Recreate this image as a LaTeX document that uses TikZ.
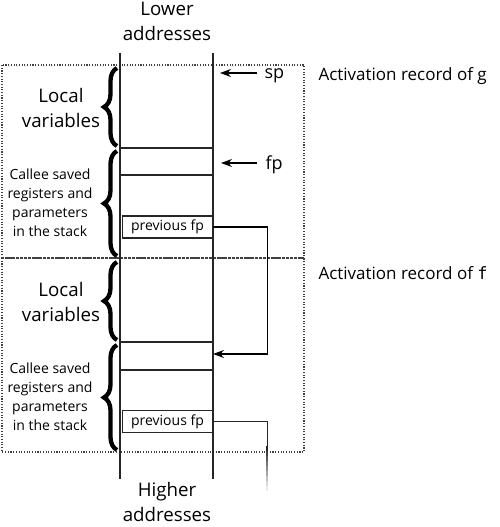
\documentclass[tikz,border=0pt]{standalone}
\usepackage{fontspec}
\setmainfont{Open Sans}
\newfontfamily\codefont{DejaVu Sans Mono}
\usetikzlibrary{arrows.meta,decorations.pathreplacing}
\tikzset{
  stackline/.style={line width=1.1pt, draw=black!85},
  frame/.style={dash pattern=on 1.1pt off 1.6pt, line width=1.1pt, draw=black!75},
  bigbrace/.style={decorate, decoration={brace, amplitude=13pt}, line width=4.3pt},
  pfbox/.style={draw=black!85, line width=1.1pt, minimum width=90pt, minimum height=22pt, inner sep=0pt, font=\fontsize{14}{16}\selectfont},
  ptr/.style={line width=1.1pt, -{Stealth[length=11pt,width=8pt]}},
  bigtxt/.style={font=\fontsize{18.7}{25}\selectfont, align=center},
  lbltxt/.style={font=\fontsize{17}{22}\selectfont, anchor=west},
  smalltxt/.style={font=\fontsize{14}{19}\selectfont, align=center},
}
\begin{document}
\begin{tikzpicture}[x=1pt,y=-1pt]
\useasboundingbox (0,0) rectangle (500,527);
% frames
\draw[frame] (2,65) rectangle (304,258);
\draw[frame] (2,258) rectangle (304,452);
% stack
\draw[stackline] (120,53) -- (120,479);
\draw[stackline] (213,53) -- (213,479);
\draw[stackline] (120,148) -- (213,148);
\draw[stackline] (120,175) -- (213,175);
\draw[stackline] (120,342) -- (213,342);
\draw[stackline] (120,370) -- (213,370);
% texts top/bottom
\node[bigtxt] (low) at (167,21) {Lower\\addresses};
\node[bigtxt] (high) at (167,502) {Higher\\addresses};
% activation labels
\node[lbltxt] (actg) at (315,76) {Activation record of g};
\node[lbltxt] (actf) at (315,273) {Activation record of {\codefont f}};
% braces
\draw[bigbrace] (117,146) -- (117,68);
\draw[bigbrace] (117,256) -- (117,151);
\draw[bigbrace] (117,340) -- (117,262);
\draw[bigbrace] (117,450) -- (117,345);
\node[bigtxt] (lv1) at (61,108) {Local\\variables};
\node[bigtxt] (lv2) at (61,302) {Local\\variables};
\node[smalltxt] (cs1) at (50,203) {Callee saved\\registers and\\parameters\\in the stack};
\node[smalltxt] (cs2) at (50,397) {Callee saved\\registers and\\parameters\\in the stack};
% previous fp boxes
\node[pfbox] (pf1) at (167.5,227) {previous fp};
\node[pfbox] (pf2) at (167.5,421.5) {previous fp};
% sp / fp
\node[lbltxt, font=\fontsize{18}{22}\selectfont] (sp) at (261,76) {sp};
\node[lbltxt, font=\fontsize{18}{22}\selectfont] (fp) at (262,165) {fp};
\coordinate (spt) at (220,73);
\coordinate (fpt) at (221,163);
\draw[ptr] (257,73) -- (spt);
\draw[ptr] (257,163) -- (fpt);
% links
\coordinate (t1) at (213,354);
\draw[ptr] (pf1.east) -- ++(54,0) |- (t1);
\draw[stackline] (pf2.east) -- ++(54,0) -- ++(0,25);
\foreach \i/\c in {0/85,1/75,2/65,3/55,4/45,5/35,6/25,7/15,8/8}
  \draw[line width=1.1pt, draw=black!\c] (267,446+5*\i) -- (267,451+5*\i);
\end{tikzpicture}
\end{document}
